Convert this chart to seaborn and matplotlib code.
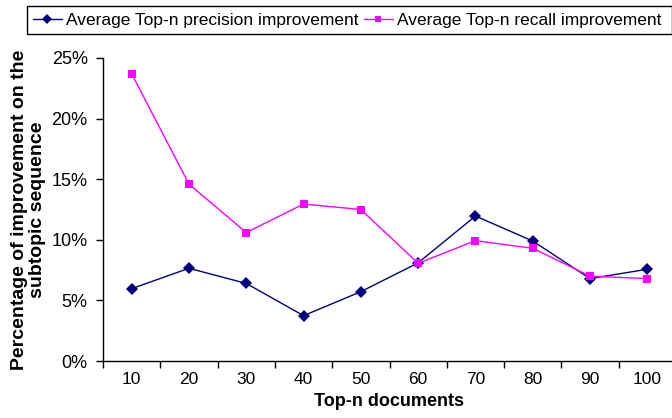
import matplotlib
matplotlib.use("Agg")
import matplotlib.pyplot as plt
import seaborn as sns
import pandas as pd
from matplotlib.patches import Rectangle
from matplotlib.ticker import FixedLocator, PercentFormatter

top_n = ["10", "20", "30", "40", "50", "60", "70", "80", "90", "100"]
precision_improvement = [5.97, 7.65, 6.4, 3.74, 5.72, 8.1, 11.96, 9.9, 6.8, 7.57]
recall_improvement = [23.7, 14.6, 10.6, 12.95, 12.5, 8.06, 9.93, 9.3, 7.0, 6.8]
series_names = ["Average Top-n precision improvement", "Average Top-n recall improvement"]

df = pd.DataFrame({
    "pos": list(range(len(top_n))) * 2,
    "value": precision_improvement + recall_improvement,
    "series": [series_names[0]] * len(top_n) + [series_names[1]] * len(top_n),
})

sns.set_style("white")
plt.rcParams["font.family"] = ["Liberation Sans", "DejaVu Sans"]
plt.rcParams["text.color"] = "black"
plt.rcParams["axes.labelcolor"] = "black"
plt.rcParams["xtick.color"] = "black"
plt.rcParams["ytick.color"] = "black"

W, H = 672, 418
fig = plt.figure(figsize=(W / 100, H / 100), dpi=100)
ax = fig.add_axes([103 / W, 1 - 361 / H, 573 / W, (361 - 58) / H])

sns.lineplot(data=df, x="pos", y="value", hue="series", style="series",
             palette=["#000080", "#FF00FF"], markers=["D", "s"], dashes=False,
             markersize=6, markeredgewidth=0, linewidth=1.0, ax=ax, legend=True)

ax.set_xlim(-0.5, len(top_n) - 0.5)
ax.set_ylim(0, 25)
ax.yaxis.set_major_locator(FixedLocator([0, 5, 10, 15, 20, 25]))
ax.yaxis.set_major_formatter(PercentFormatter(decimals=0))

# Excel-style category axis: tick marks between categories, labels centred
ax.xaxis.set_major_locator(FixedLocator([i - 0.5 for i in range(len(top_n) + 1)]))
ax.xaxis.set_minor_locator(FixedLocator(list(range(len(top_n)))))
ax.set_xticklabels([], minor=False)
ax.set_xticklabels(top_n, minor=True)
ax.tick_params(axis="x", which="major", direction="out", length=5, width=1, color="black", bottom=True)
ax.tick_params(axis="x", which="minor", length=0, labelsize=12.5, pad=8)
ax.tick_params(axis="y", direction="out", length=5, width=1, color="black", left=True, labelsize=13, pad=6)

for side in ["top", "right"]:
    ax.spines[side].set_visible(False)
for side in ["left", "bottom"]:
    ax.spines[side].set_color("black")
    ax.spines[side].set_linewidth(1.0)

ax.set_xlabel("Top-n documents", fontsize=13, fontweight="bold", labelpad=4)
ax.set_ylabel("Percentage of improvement on the\nsubtopic sequence", fontsize=14,
              fontweight="bold", labelpad=4, linespacing=1.05)

# Legend strip across the top with its own rectangular frame
handles, labels = ax.get_legend_handles_labels()
ax.legend_.remove()
for h in handles:
    h.set_markersize(5)
fig.legend(handles, labels, loc="center left", bbox_to_anchor=(33 / W, 1 - 20 / H),
           ncol=2, frameon=False, fontsize=12.5,
           handlelength=1.67, handletextpad=0.23, columnspacing=0.29,
           borderpad=0, borderaxespad=0)
fig.patches.append(Rectangle((27 / W, 1 - 34 / H), (672 - 27) / W, 28 / H,
                             transform=fig.transFigure, fill=False,
                             edgecolor="black", linewidth=1.0))

fig.savefig("out.png", dpi=100)
